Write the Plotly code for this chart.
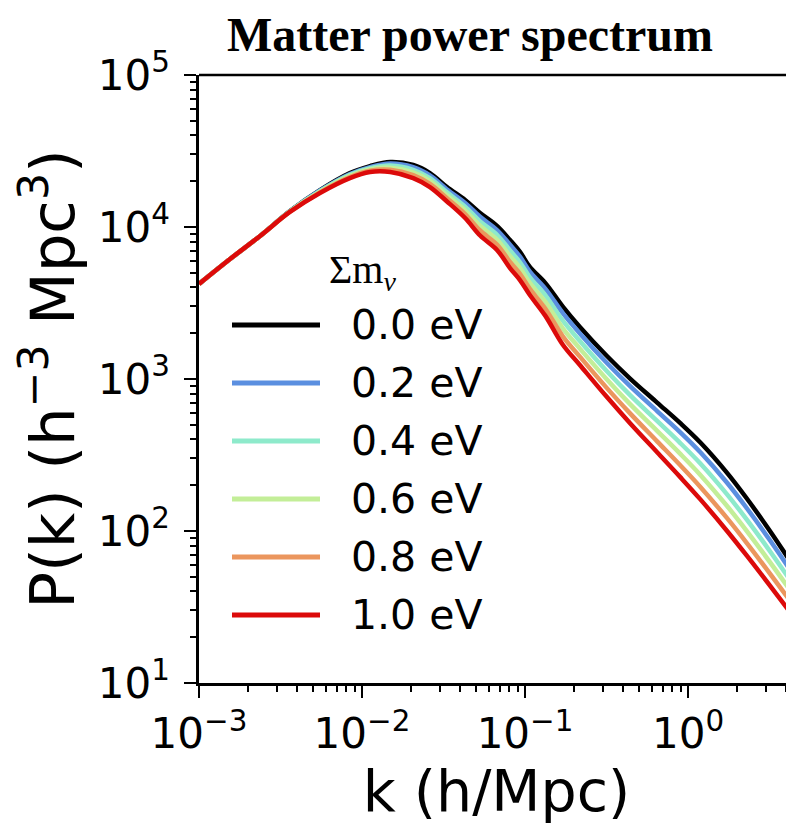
import plotly.graph_objects as go

# k (h/Mpc)
k_values = [0.00100, 0.00155, 0.00237, 0.00361, 0.00552, 0.00843, 0.0112, 0.0149,
            0.0206, 0.0261, 0.0332, 0.0429, 0.0530, 0.0673, 0.0809, 0.0931, 0.107,
            0.133, 0.171, 0.217, 0.318, 0.441, 0.646, 0.893, 1.19, 1.73, 2.30, 3.18, 4.47]

# log10 P(k), one list per neutrino mass
logP_00 = [3.625, 3.789, 3.941, 4.105, 4.243, 4.355, 4.401, 4.428, 4.408, 4.355, 4.263,
           4.178, 4.092, 4.007, 3.914, 3.836, 3.737, 3.632, 3.474, 3.342, 3.151, 3.003,
           2.845, 2.711, 2.582, 2.384, 2.212, 2.000, 1.762]
logP_02 = [3.625, 3.789, 3.941, 4.104, 4.240, 4.349, 4.394, 4.417, 4.393, 4.339, 4.247,
           4.158, 4.067, 3.980, 3.883, 3.805, 3.706, 3.595, 3.432, 3.300, 3.105, 2.953,
           2.789, 2.651, 2.518, 2.319, 2.148, 1.939, 1.706]
logP_04 = [3.625, 3.789, 3.941, 4.103, 4.236, 4.343, 4.387, 4.404, 4.376, 4.321, 4.228,
           4.134, 4.037, 3.949, 3.846, 3.768, 3.669, 3.552, 3.382, 3.250, 3.051, 2.894,
           2.724, 2.580, 2.444, 2.243, 2.073, 1.867, 1.640]
logP_06 = [3.625, 3.789, 3.941, 4.102, 4.232, 4.336, 4.379, 4.390, 4.359, 4.303, 4.209,
           4.110, 4.008, 3.917, 3.809, 3.731, 3.632, 3.509, 3.332, 3.200, 2.997, 2.835,
           2.659, 2.509, 2.369, 2.166, 1.998, 1.795, 1.574]
logP_08 = [3.625, 3.789, 3.941, 4.100, 4.228, 4.329, 4.371, 4.377, 4.341, 4.283, 4.189,
           4.085, 3.977, 3.884, 3.770, 3.692, 3.593, 3.464, 3.279, 3.147, 2.940, 2.774,
           2.590, 2.434, 2.290, 2.086, 1.919, 1.720, 1.505]
logP_10 = [3.625, 3.789, 3.941, 4.099, 4.224, 4.322, 4.362, 4.362, 4.322, 4.263, 4.168,
           4.059, 3.944, 3.849, 3.730, 3.651, 3.553, 3.417, 3.224, 3.092, 2.881, 2.709,
           2.518, 2.356, 2.208, 2.002, 1.836, 1.641, 1.432]

series_names = ["0.0 eV", "0.2 eV", "0.4 eV", "0.6 eV", "0.8 eV", "1.0 eV"]
series_logP = [logP_00, logP_02, logP_04, logP_06, logP_08, logP_10]
series_colors = ["#000000", "#5b8fe0", "#8eeacb", "#c3ee98", "#eb965e", "#dc0a0a"]

x_tickvals = [1e-3, 1e-2, 1e-1, 1e0]
x_ticktext = ["10<sup>−3</sup>", "10<sup>−2</sup>", "10<sup>−1</sup>", "10<sup>0</sup>"]
y_tickvals = [1e1, 1e2, 1e3, 1e4, 1e5]
y_ticktext = ["10<sup>1</sup>", "10<sup>2</sup>", "10<sup>3</sup>", "10<sup>4</sup>", "10<sup>5</sup>"]

# page has an 8px body margin: figure is sized to fit inside the 794x825 window
OFF = 8
W, H = 794 - OFF, 825 - OFF
L, T = 199 - OFF, 75 - OFF
R = 0
B = H - (683 - OFF)

fig = go.Figure()
for name, lp, col in zip(series_names, series_logP, series_colors):
    fig.add_trace(go.Scatter(
        x=k_values, y=[10 ** v for v in lp], mode="lines", name=name,
        line=dict(color=col, width=4.5, shape="spline", smoothing=1.0),
        showlegend=False,
    ))

plot_w = W - L - R
plot_h = H - T - B


def px_x(sx):
    return (sx - OFF - L) / plot_w


def px_y(sy):
    return (H - B - (sy - OFF)) / plot_h


# custom legend (long line samples like matplotlib)
row_px = [325, 383, 441, 499, 557, 615]
for name, col, ypx in zip(series_names, series_colors, row_px):
    yp = px_y(ypx)
    fig.add_shape(type="line", xref="paper", yref="paper",
                  x0=px_x(232), x1=px_x(320), y0=yp, y1=yp,
                  line=dict(color=col, width=5))
    fig.add_annotation(xref="paper", yref="paper", x=px_x(349), y=yp,
                       text=name, showarrow=False, xanchor="left", yanchor="middle",
                       font=dict(family="DejaVu Sans", size=41, color="black"))
fig.add_annotation(xref="paper", yref="paper", x=px_x(327), y=px_y(272),
                   text="Σm<sub><i>ν</i></sub>",
                   showarrow=False, xanchor="left", yanchor="middle",
                   font=dict(family="Liberation Serif", size=40, color="black"))

axis_common = dict(
    type="log", showgrid=False, zeroline=False, showline=True, linecolor="black",
    linewidth=2.5, ticks="outside", tickcolor="black", tickwidth=2, ticklen=12,
    tickfont=dict(family="DejaVu Sans", size=42, color="black"), automargin=False,
    minor=dict(ticks="outside", ticklen=6, tickwidth=1.5, tickcolor="black", dtick="D1"),
)

fig.update_xaxes(**axis_common, range=[-3, 0.65], tickvals=x_tickvals, ticktext=x_ticktext,
                 mirror=False,
                 title=dict(text="k (h/Mpc)", font=dict(family="DejaVu Sans", size=57, color="black"),
                            standoff=0))
fig.update_yaxes(**axis_common, range=[1, 5], tickvals=y_tickvals, ticktext=y_ticktext,
                 ticklabelstandoff=6,
                 title=dict(text="P(k) (h<sup>−3</sup> Mpc<sup>3</sup>)",
                            font=dict(family="DejaVu Sans", size=61, color="black"),
                            standoff=6))

# top spine
fig.add_shape(type="line", xref="paper", yref="paper", x0=0, x1=1, y0=1, y1=1,
              line=dict(color="black", width=2.5))

fig.update_layout(
    width=W, height=H,
    margin=dict(l=L, r=R, t=T, b=B, autoexpand=False),
    paper_bgcolor="white", plot_bgcolor="white",
    title=dict(text="<b>Matter power spectrum</b>", x=(470 - OFF) / W, xanchor="center",
               y=1 - (34 - OFF) / H, yanchor="middle", yref="container",
               font=dict(family="Liberation Serif", size=48, color="black")),
    showlegend=False,
)

fig.write_html("out.html")
